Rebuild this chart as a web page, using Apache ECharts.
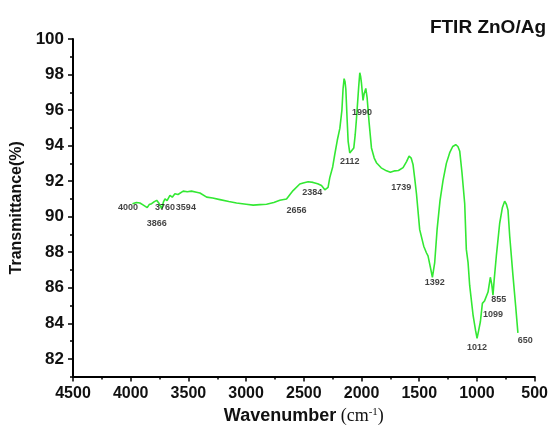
<!DOCTYPE html>
<html>
<head>
<meta charset="utf-8">
<script src="https://cdn.jsdelivr.net/npm/echarts@6/dist/echarts.min.js"></script>
<style>
  html, body { margin: 0; padding: 0; background: #fff; }
  #chart { width: 551px; height: 430px; }
</style>
</head>
<body>
<div id="chart"></div>
<script>
// spectrum (wavenumber cm-1, transmittance %)
var wavenumber = [
  3985, 3950, 3920, 3890, 3857, 3840, 3819, 3795, 3775, 3755, 3732, 3715, 3703, 3685, 3660, 3640,
  3617, 3590, 3545, 3510, 3473, 3430, 3400, 3342, 3290, 3227, 3150, 3083, 3000, 2939, 2880, 2823,
  2760, 2708, 2650, 2620, 2593, 2535, 2506, 2463, 2420, 2380, 2347, 2318, 2290, 2275, 2250, 2232,
  2210, 2188, 2170, 2160, 2151, 2143, 2136, 2125, 2116, 2102, 2085, 2067, 2055, 2044, 2024, 2015,
  2008, 2001, 1987, 1978, 1963, 1952, 1935, 1914, 1890, 1871, 1830, 1784, 1750, 1712, 1680, 1640,
  1610, 1588, 1570, 1554, 1540, 1524, 1496, 1461, 1438, 1424, 1405, 1386, 1366, 1345, 1320, 1294,
  1265, 1236, 1210, 1184, 1165, 1149, 1130, 1106, 1092, 1077, 1063, 1034, 1012, 999, 985, 970,
  953, 935, 924, 904, 884, 872, 861, 850, 832, 803, 780, 760, 745, 731, 716, 688, 665, 645
];
var transmittance = [
  90.73, 90.80, 90.77, 90.65, 90.51, 90.68, 90.73, 90.85, 90.92, 90.75, 90.46, 90.85, 91.00, 90.90, 91.20, 91.10,
  91.29, 91.25, 91.44, 91.40, 91.44, 91.38, 91.33, 91.10, 91.05, 90.96, 90.85, 90.77, 90.70, 90.65, 90.68, 90.70,
  90.80, 90.92, 91.00, 91.25, 91.47, 91.84, 91.90, 91.97, 91.93, 91.85, 91.75, 91.51, 91.65, 92.20, 92.80, 93.50,
  94.30, 94.97, 96.00, 97.20, 97.77, 97.60, 97.18, 95.50, 94.24, 93.59, 93.70, 93.87, 94.60, 95.50, 97.36, 98.10,
  97.90, 97.55, 96.54, 96.90, 97.22, 96.72, 95.34, 93.87, 93.30, 93.04, 92.75, 92.58, 92.50, 92.58, 92.60, 92.76,
  93.10, 93.41, 93.30, 92.94, 92.20, 91.29, 89.27, 88.34, 87.97, 87.79, 87.20, 86.59, 87.42, 89.30, 90.90, 92.03,
  93.00, 93.60, 93.95, 94.05, 93.95, 93.68, 92.50, 90.73, 88.16, 87.42, 86.13, 84.48, 83.60, 83.15, 83.60, 84.10,
  85.12, 85.25, 85.30, 85.76, 86.59, 86.20, 85.58, 86.50, 87.79, 89.63, 90.50, 90.87, 90.70, 90.37, 88.90, 86.70, 85.00, 83.46
];

// peak annotations: text and the spot where the text sits
var peakText = ['4000', '3866', '3760', '3594', '2656', '2384', '2112', '1990', '1739', '1392', '855', '1099', '1012', '650'];
var peakW = [4024, 3775, 3703, 3522, 2563, 2428, 2102, 1995, 1655, 1366, 812, 861, 999, 581];
var peakT = [90.50, 89.63, 90.50, 90.50, 90.37, 91.34, 93.13, 95.84, 91.66, 86.28, 85.34, 84.51, 82.63, 83.04];

var xTicks = [500, 1000, 1500, 2000, 2500, 3000, 3500, 4000, 4500];
var yTicks = [82, 84, 86, 88, 90, 92, 94, 96, 98, 100];

var lineData = wavenumber.map(function (w, i) { return [w, transmittance[i]]; });
var peakData = peakText.map(function (t, i) { return { name: t, value: [peakW[i], peakT[i]] }; });

var font = 'Liberation Sans, Arial, sans-serif';
var myChart = echarts.init(document.getElementById('chart'));
myChart.setOption({
  backgroundColor: '#fff',
  animation: false,
  title: {
    text: 'FTIR ZnO/Ag',
    right: 0,
    top: 13,
    textStyle: { fontFamily: font, fontSize: 19, fontWeight: 'bold', color: '#111' }
  },
  grid: { left: 73, right: 16, top: 39, bottom: 47 },
  xAxis: {
    type: 'value',
    inverse: true,
    min: xTicks[0],
    max: xTicks[xTicks.length - 1],
    interval: 500,
    name: '{w|Wavenumber}{c| (cm}{s|-1}{c|)}',
    nameLocation: 'middle',
    nameGap: 29,
    nameTextStyle: {
      rich: {
        w: { fontFamily: font, fontSize: 18, fontWeight: 'bold', color: '#111' },
        c: { fontFamily: 'Liberation Serif, Times New Roman, serif', fontSize: 18, color: '#111' },
        s: { fontFamily: 'Liberation Serif, Times New Roman, serif', fontSize: 11, color: '#111', verticalAlign: 'top', padding: [0, 0, 8, 0] }
      }
    },
    axisLine: { onZero: false, lineStyle: { color: '#000', width: 2 } },
    axisTick: { length: 5, lineStyle: { color: '#000', width: 1.5 } },
    minorTick: { show: true, splitNumber: 2, length: 3, lineStyle: { color: '#000', width: 1.5 } },
    axisLabel: {
      formatter: function (v) { return String(v); },
      fontFamily: font, fontSize: 16, fontWeight: 'bold', color: '#111', margin: 9
    },
    splitLine: { show: false }
  },
  yAxis: [
    {
      type: 'value',
      min: 81,
      max: 100,
      interval: 1,
      name: 'Transmittance(%)',
      nameLocation: 'middle',
      nameGap: 46,
      nameTextStyle: { fontFamily: font, fontSize: 16, fontWeight: 'bold', color: '#111' },
      axisLine: { show: true, onZero: false, lineStyle: { color: '#000', width: 2 } },
      axisTick: { show: true, customValues: yTicks, length: 5, lineStyle: { color: '#000', width: 1.5 } },
      axisLabel: { customValues: yTicks, fontFamily: font, fontSize: 17, fontWeight: 'bold', color: '#111', margin: 9 },
      splitLine: { show: false }
    },
    {
      type: 'value',
      min: 81,
      max: 100,
      interval: 1,
      position: 'left',
      axisLine: { show: false },
      axisTick: { show: true, length: 3, lineStyle: { color: '#000', width: 1.5 } },
      axisLabel: { show: false },
      splitLine: { show: false }
    }
  ],
  series: [
    {
      name: 'FTIR ZnO/Ag',
      type: 'line',
      data: lineData,
      showSymbol: false,
      lineStyle: { color: '#33e833', width: 1.6 },
      z: 2
    },
    {
      type: 'scatter',
      data: peakData,
      symbolSize: 0,
      label: {
        show: true,
        position: 'inside',
        formatter: '{b}',
        fontFamily: font,
        fontSize: 9,
        fontWeight: 'bold',
        color: '#111'
      },
      z: 3
    }
  ]
});
</script>
</body>
</html>
